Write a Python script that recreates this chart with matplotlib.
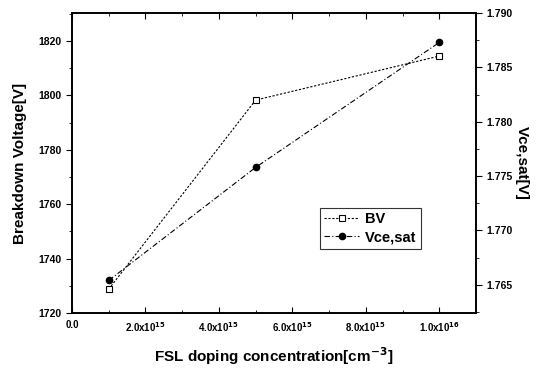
import matplotlib
matplotlib.use('Agg')
import matplotlib.pyplot as plt
from matplotlib.ticker import MultipleLocator

plt.rcParams['font.family'] = ['Liberation Sans', 'DejaVu Sans']
plt.rcParams['font.weight'] = 'bold'

# data
doping = [1e15, 5e15, 1e16]
bv = [1728.8, 1798.3, 1814.5]
vce_sat = [1.7654, 1.7758, 1.7873]

xticks = [0, 2e15, 4e15, 6e15, 8e15, 1e16]
xticklabels = ['0.0', '2.0x10$^{15}$', '4.0x10$^{15}$', '6.0x10$^{15}$',
               '8.0x10$^{15}$', '1.0x10$^{16}$']
left_ticks = [1720, 1740, 1760, 1780, 1800, 1820]
right_ticks = [1.765, 1.770, 1.775, 1.780, 1.785, 1.790]

fig = plt.figure(figsize=(5.39, 3.74), dpi=100)
ax = fig.add_axes([0.1336, 0.163, 0.7495, 0.802])
ax2 = ax.twinx()

l1, = ax.plot(doping, bv, ls=(0, (2, 1.5)), lw=0.8, c='k', marker='s',
              ms=4, mfc='white', mec='k', mew=0.8, label='BV')
l2, = ax2.plot(doping, vce_sat, ls=(0, (5, 2, 1, 2)), lw=0.8, c='k',
               marker='o', ms=4.5, mfc='k', mec='k', label='Vce,sat')

ax.set_xlim(0, 1.1e16)
ax.set_ylim(1720, 1830.3)
ax2.set_ylim(1.7624, 1.790)

ax.set_xticks(xticks)
ax.set_xticklabels(xticklabels)
ax.set_yticks(left_ticks)
ax2.set_yticks(right_ticks)
ax2.set_yticklabels(['%.3f' % v for v in right_ticks])
ax.xaxis.set_minor_locator(MultipleLocator(1e15))
ax.yaxis.set_minor_locator(MultipleLocator(10))
ax2.yaxis.set_minor_locator(MultipleLocator(0.0025))

ax.tick_params(axis='x', which='both', direction='in', top=True, labelsize=7)
ax.tick_params(axis='x', which='major', length=4, pad=5)
ax.tick_params(axis='x', which='minor', length=2)
ax.tick_params(axis='y', which='both', direction='out', labelsize=7.5)
ax.tick_params(axis='y', which='major', length=4)
ax.tick_params(axis='y', which='minor', length=2)
ax2.tick_params(axis='y', which='both', direction='out', labelsize=7.5)
ax2.tick_params(axis='y', which='major', length=4)
ax2.tick_params(axis='y', which='minor', length=2)
for a in (ax, ax2):
    for s in a.spines.values():
        s.set_linewidth(1.2)

ax.set_xlabel('FSL doping concentration[cm$^{\\mathbf{-3}}$]', fontsize=11,
              fontweight='bold', labelpad=8)
ax.set_ylabel('Breakdown Voltage[V]', fontsize=11, fontweight='bold',
              labelpad=8)
ax2.set_ylabel('Vce,sat[V]', fontsize=11, fontweight='bold', rotation=270,
               labelpad=12)

leg = ax2.legend(handles=[l1, l2], loc='lower left',
                 bbox_to_anchor=(0.595, 0.19), fontsize=10.5, frameon=True,
                 fancybox=False, edgecolor='k', handlelength=2.4,
                 borderpad=0.3, labelspacing=0.3, handletextpad=0.4)
leg.get_frame().set_linewidth(0.8)

plt.savefig('out.png', dpi=100)
